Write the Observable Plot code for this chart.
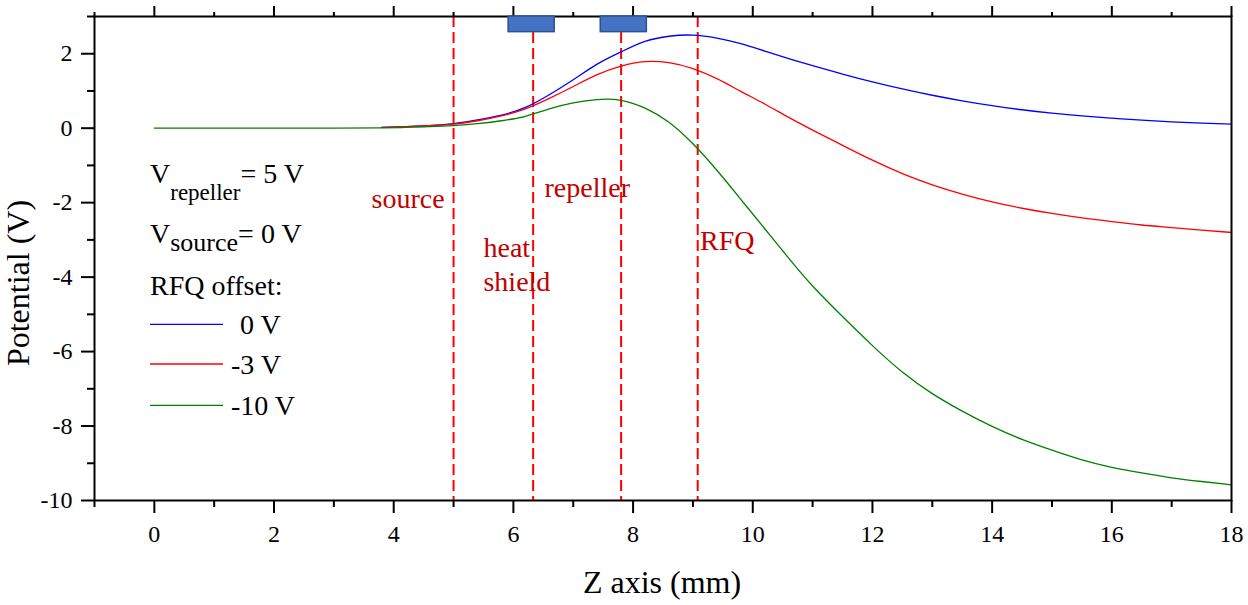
<!DOCTYPE html>
<html><head><meta charset="utf-8">
<script src="https://cdn.jsdelivr.net/npm/d3@7"></script>
<script src="https://cdn.jsdelivr.net/npm/@observablehq/plot@0.6"></script>
<style>html,body{margin:0;padding:0;background:#fff;} #chart{width:1248px;height:605px;}</style>
</head><body><div id="chart"></div>
<script>
// ---- data ----
const zGrid = [0,1,2,3,3.8,4.2,4.6,5.0,5.4,5.8,6.2,6.6,7.0,7.4,7.8,8.2,8.6,9.0,9.4,9.8,10.2,10.6,11.0,11.5,12.0,12.5,13.0,13.5,14.0,14.5,15.0,15.5,16.0,16.5,17.0,17.5,18.0];
const vOffset0 = [null,null,null,null,0.02,0.04,0.07,0.12,0.22,0.35,0.56,0.90,1.30,1.72,2.05,2.33,2.47,2.50,2.42,2.27,2.07,1.87,1.68,1.455,1.245,1.055,0.885,0.735,0.605,0.495,0.405,0.33,0.27,0.215,0.17,0.135,0.11];
const vOffset3 = [null,null,null,null,0.02,0.04,0.07,0.11,0.20,0.33,0.52,0.80,1.12,1.44,1.67,1.79,1.76,1.60,1.33,0.99,0.65,0.29,-0.05,-0.46,-0.86,-1.22,-1.52,-1.77,-1.98,-2.15,-2.29,-2.41,-2.51,-2.60,-2.67,-2.74,-2.80];
const vOffset10 = [0,0,0,0,0.01,0.02,0.04,0.07,0.12,0.20,0.32,0.52,0.68,0.77,0.75,0.54,0.16,-0.42,-1.13,-1.91,-2.70,-3.49,-4.24,-5.06,-5.84,-6.55,-7.13,-7.60,-8.01,-8.36,-8.65,-8.91,-9.11,-9.26,-9.39,-9.49,-9.58];
const seriesNames = ["0 V","-3 V","-10 V"];
const seriesColors = ["#0000ff","#ff0000","#008000"];

const markerZ = [5.0, 6.33, 7.8, 9.08];
const electrodeNames = ["heat shield","repeller"];
const electrodeZ1 = [5.92, 7.46];
const electrodeZ2 = [6.69, 8.23];
const electrodeV1 = [2.58, 2.58];
const electrodeV2 = [3.0, 3.0];

const labelTexts = ["source","repeller","heat","shield","RFQ"];
const labelZ = [3.63, 6.52, 5.5, 5.5, 9.12];
const labelV = [-2.15, -1.85, -3.46, -4.37, -3.28];

const xMajor = [0,2,4,6,8,10,12,14,16,18];
const xMinor = [-1,1,3,5,7,9,11,13,15,17];
const yMajor = [-10,-8,-6,-4,-2,0,2];
const yMinor = [-9,-7,-5,-3,-1,1,3];

const xTitle = "Z axis (mm)";
const yTitle = "Potential (V)";
const legendTitle = "RFQ offset:";

// ---- build ----
const FONT = "'Liberation Serif','Times New Roman',serif";
const rows = [];
[vOffset0, vOffset3, vOffset10].forEach((vals, i) => vals.forEach((v, j) => {
  if (v != null) rows.push({z: zGrid[j], v, s: seriesNames[i]});
}));
const electrodes = electrodeNames.map((n, i) => ({n, x1: electrodeZ1[i], x2: electrodeZ2[i], y1: electrodeV1[i], y2: electrodeV2[i]}));
const labels = labelTexts.map((t, i) => ({t, z: labelZ[i], v: labelV[i]}));

const blank = () => "";
const ax = {strokeWidth: 2, label: null, tickFormat: blank};
const tickText = {fontSize: 24, fontFamily: FONT, fill: "black", text: d => String(d)};
const chart = Plot.plot({
  width: 1248, height: 605,
  marginLeft: 94, marginRight: 17, marginTop: 16, marginBottom: 105,
  x: {domain: [-1, 18], label: null},
  y: {domain: [-10, 3], label: null},
  color: {domain: seriesNames, range: seriesColors},
  style: {fontFamily: FONT, fontSize: "24px", background: "white", color: "black"},
  marks: [
    Plot.ruleX(markerZ, {stroke: "#ff0000", strokeWidth: 2, strokeDasharray: "11,5"}),
    Plot.line(rows, {x: "z", y: "v", z: "s", stroke: "s", strokeWidth: 1.3, curve: "natural"}),
    Plot.axisX({...ax, ticks: xMajor, tickSize: 13}),
    Plot.axisX({...ax, ticks: xMinor, tickSize: 7}),
    Plot.axisX({...ax, anchor: "top", ticks: xMajor, tickSize: 11}),
    Plot.axisX({...ax, anchor: "top", ticks: xMinor, tickSize: 5}),
    Plot.axisY({...ax, ticks: yMajor, tickSize: 13}),
    Plot.axisY({...ax, ticks: yMinor, tickSize: 7}),
    Plot.text(xMajor, {...tickText, x: d => d, frameAnchor: "bottom", lineAnchor: "top", dy: 24}),
    Plot.text(yMajor, {...tickText, y: d => d, frameAnchor: "left", textAnchor: "end", lineAnchor: "middle", dx: -22}),
    Plot.frame({stroke: "black", strokeWidth: 2}),
    Plot.rect(electrodes, {x1: "x1", x2: "x2", y1: "y1", y2: "y2", fill: "#4472C4", stroke: "#2F528F", strokeWidth: 1.5}),
    Plot.text(labels, {x: "z", y: "v", text: "t", textAnchor: "start", lineAnchor: "bottom", fill: "#c00000", fontSize: 28, fontFamily: FONT})
  ]
});
document.getElementById("chart").appendChild(chart);

// ---- titles and legend ----
const svg = d3.select(chart);
function addText(x, y, parts, size) {
  const t = svg.append("text").attr("x", x).attr("y", y).attr("text-anchor", "start")
    .attr("font-family", FONT).attr("font-size", size).attr("fill", "black");
  parts.forEach(p => t.append("tspan").attr("dy", p.dy || 0).attr("font-size", p.size || size).text(p.t));
  return t;
}
addText(150, 183, [{t: "V"}, {t: "repeller", size: 23, dy: 17.4}, {t: "= 5 V", dy: -17.4}], 28);
addText(150, 243, [{t: "V"}, {t: "source", size: 26, dy: 8.4}, {t: "= 0 V", dy: -8.4}], 28);
addText(150, 295, [{t: legendTitle}], 28);
const legendY = [324.3, 364, 405.3];
seriesNames.forEach((n, i) => {
  svg.append("line").attr("x1", 150).attr("x2", 223).attr("y1", legendY[i]).attr("y2", legendY[i])
    .attr("stroke", seriesColors[i]).attr("stroke-width", 1.3);
  addText(n.startsWith("-") ? 231 : 240, legendY[i] + 10, [{t: n}], 28);
});
svg.append("text").attr("x", 662).attr("y", 593).attr("text-anchor", "middle")
  .attr("font-family", FONT).attr("font-size", 32).attr("fill", "black").text(xTitle);
svg.append("text").attr("transform", "translate(29,283) rotate(-90)").attr("text-anchor", "middle")
  .attr("font-family", FONT).attr("font-size", 32).attr("fill", "black").text(yTitle);
</script>
</body></html>
